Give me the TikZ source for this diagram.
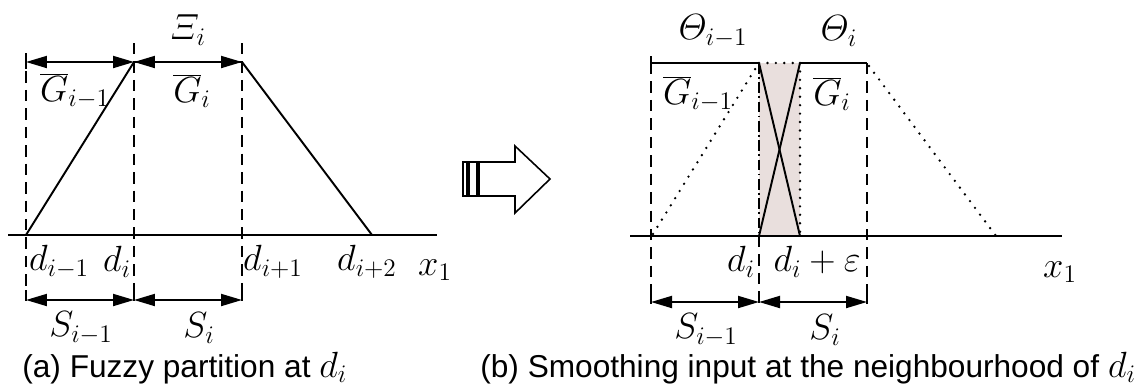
\documentclass[tikz,border=0pt]{standalone}
\usepackage{fontspec}
\setmainfont{Liberation Sans}
\usetikzlibrary{arrows.meta}
\definecolor{epsshade}{RGB}{233,223,221}
\newcommand{\capdi}{{\fontsize{21.5}{21}\selectfont$d_i$}}
\begin{document}
\begin{tikzpicture}[x=0.02cm,y=-0.02cm,
		lbl/.style={font=\fontsize{19.5}{22}\selectfont,inner sep=0pt},
		caption/.style={font=\fontsize{18}{21}\selectfont,inner sep=0pt,anchor=base west},
		dimline/.style={line width=1.1pt,{Triangle[length=0.42cm,width=0.24cm]}-{Triangle[length=0.42cm,width=0.24cm]}},
		guide/.style={line width=1pt,dash pattern=on 6.5pt off 4pt},
		guidedd/.style={line width=1pt,dash pattern=on 6pt off 2pt on 1pt off 2pt},
		curve/.style={line width=1.1pt},
		dotline/.style={line width=1.5pt,line cap=round,dash pattern=on 0pt off 4.8pt}]
	\useasboundingbox (0,0) rectangle (1145,389);
	%figure (a)
	\draw[guide] (26,53) -- (26,300);
	\draw[guide] (134,43) -- (134,300);
	\draw[guide] (242,43) -- (242,300);
	\draw[curve] (8,235) -- (437,235);
	\draw[curve] (26,235) -- (134,62) -- (242,62) -- (372,235);
	\draw[curve] (26,55) -- (26,69);
	\draw[curve] (26,290) -- (26,301);
	\draw[curve] (134,290) -- (134,301);
	\draw[curve] (242,290) -- (242,301);
	\draw[dimline] (26,62) -- (134,62);
	\draw[dimline] (134,62) -- (242,62);
	\draw[dimline] (26,300) -- (134,300);
	\draw[dimline] (134,300) -- (242,300);
	\node[lbl] (xia) at (188,30) {$\mathnormal{\Xi}_i$};
	\node[lbl] (gla) at (75,91) {$\overline{G}_{i-1}$};
	\node[lbl] (gra) at (192,91) {$\overline{G}_i$};
	\node[lbl] (da) at (59,262) {$d_{i-1}$};
	\node[lbl] (db) at (117,262) {$d_i$};
	\node[lbl] (dc) at (273,262) {$d_{i+1}$};
	\node[lbl] (dd) at (367,262) {$d_{i+2}$};
	\node[lbl] (xa) at (435,270) {$x_1$};
	\node[lbl] (sla) at (81,328) {$S_{i-1}$};
	\node[lbl] (sra) at (199,328) {$S_i$};
	
	%big arrow
	\draw[line width=0.9pt] (463,162) rectangle (467,196);
	\draw[line width=0.9pt] (469,162) rectangle (477,196);
	\draw[line width=0.9pt] (479,162) -- (515,162) -- (515,146) -- (550,179)
		-- (515,213) -- (515,196) -- (479,196) -- cycle;
	
	%figure (b)
	\begin{scope}[shift={(625,1)}]
		\fill[epsshade] (134,62) rectangle (175,235);
		\draw[guide] (26,62) -- (26,302);
		\draw[guidedd] (134,62) -- (134,235);
		\draw[guide] (134,235) -- (134,302);
		\draw[dotline] (175,62) -- (175,235);
		\draw[guide] (242,62) -- (242,302);
		\draw[curve] (5,235) -- (437,235);
		\draw[curve] (26,62) -- (134,62);
		\draw[dotline] (134,62) -- (175,62);
		\draw[curve] (175,62) -- (242,62);
		\draw[curve] (26,55) -- (26,69);
		\draw[curve] (134,62) -- (175,235);
		\draw[curve] (175,62) -- (134,235);
		\draw[dotline] (28,233) -- (132,65);
		\draw[dotline] (244,65) -- (371,235);
		\draw[curve] (26,291) -- (26,302);
		\draw[curve] (134,291) -- (134,302);
		\draw[curve] (242,291) -- (242,302);
		\draw[dimline] (26,301) -- (134,301);
		\draw[dimline] (134,301) -- (242,301);
		\node[lbl] (thl) at (88,30) {$\mathnormal{\Theta}_{i-1}$};
		\node[lbl] (thr) at (214,30) {$\mathnormal{\Theta}_i$};
		\node[lbl] (glb) at (73,93) {$\overline{G}_{i-1}$};
		\node[lbl] (grb) at (207,93) {$\overline{G}_i$};
		\node[lbl] (de) at (116,261) {$d_i$};
		\node[lbl] (df) at (192,261) {$d_i+\varepsilon$};
		\node[lbl] (xb) at (435,271) {$x_1$};
		\node[lbl] (slb) at (81,329) {$S_{i-1}$};
		\node[lbl] (srb) at (200,329) {$S_i$};
	\end{scope}
	
	\node[caption] (capa) at (22,377) {(a) Fuzzy partition at \capdi};
	\node[caption] (capb) at (480,377) {(b) Smoothing input at the neighbourhood of \capdi};
\end{tikzpicture}
\end{document}
